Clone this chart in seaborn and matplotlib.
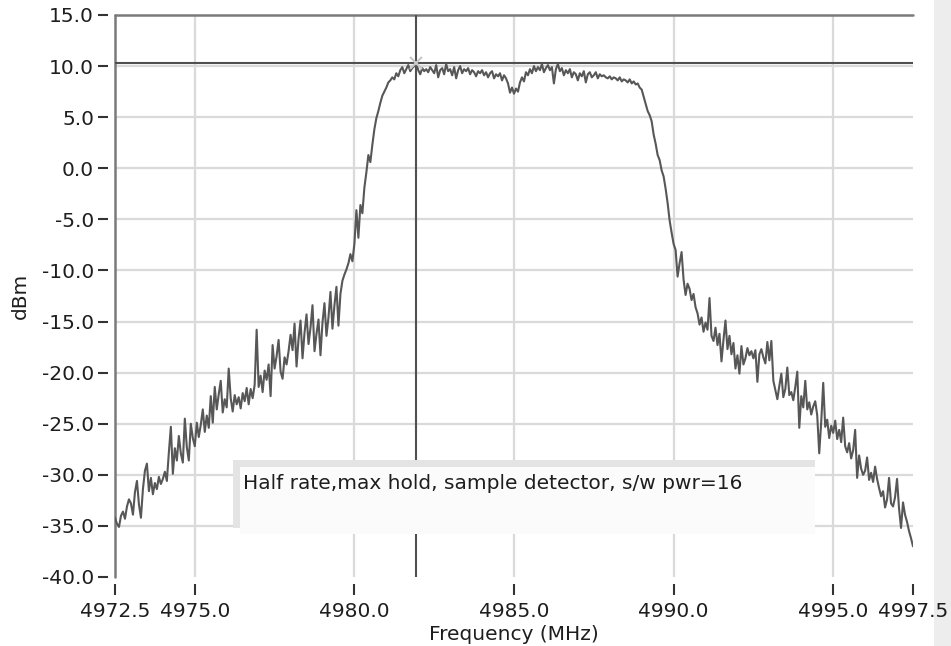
import numpy as np
import pandas as pd
import matplotlib.pyplot as plt
import seaborn as sns
from matplotlib.patches import Rectangle

# ── Data ──────────────────────────────────────────────────────
freq_start, freq_stop = 4972.5, 4997.5   # MHz, 1/16 MHz steps

# 4972.5 .. 4979.9375
skirt_left = [
    -34.2, -34.8, -35.1, -34.0, -33.6, -34.3, -33.1, -32.4,
    -32.8, -33.9, -31.7, -30.6, -32.9, -34.2, -31.4, -29.6,
    -28.9, -31.6, -30.3, -31.9, -30.8, -31.4, -30.2, -30.9,
    -30.4, -29.7, -30.6, -27.8, -25.3, -29.9, -27.4, -28.6,
    -26.2, -27.9, -28.8, -24.5, -27.3, -28.6, -25.0, -26.4,
    -27.2, -24.9, -26.3, -25.1, -23.6, -25.8, -24.2, -25.4,
    -22.3, -24.9, -21.4, -23.6, -22.1, -20.8, -23.9, -22.6,
    -23.4, -19.6, -22.5, -23.8, -22.2, -23.1, -22.4, -23.5,
    -22.0, -22.8, -21.5, -23.1, -21.6, -22.5, -21.2, -15.8,
    -21.4, -20.3, -21.9, -19.8, -20.7, -19.2, -22.3, -17.3,
    -19.6, -18.4, -16.8, -19.9, -20.6, -18.5, -19.2, -17.9,
    -16.3, -17.8, -15.2, -19.4, -16.7, -14.9, -18.6, -16.1,
    -14.3, -17.2, -15.6, -13.4, -17.9, -16.2, -14.8, -18.3,
    -15.1, -13.2, -16.4, -14.6, -12.1, -15.7, -13.4, -11.6,
    -15.4, -12.3, -11.0, -10.4, -9.9, -9.3, -8.4, -9.1,
]
# 4980.0 .. 4981.4375
rise_left = [
    -7.4, -4.1, -6.8, -3.6, -4.4, -1.9, -0.4, 1.3,
    0.6, 2.3, 3.8, 4.9, 5.6, 6.4, 7.1, 7.5,
    7.9, 8.4, 8.6, 8.9, 8.7, 9.3, 9.0, 9.6,
]
# 4981.5 .. 4988.9375
passband = [
    9.9, 9.3, 9.7, 10.1, 9.5, 9.8, 10.0, 10.3,
    9.6, 9.2, 9.8, 9.5, 9.7, 9.4, 9.9, 9.6,
    9.3, 10.1, 8.9, 9.6, 9.8, 9.2, 10.2, 9.5,
    9.7, 9.1, 9.9, 8.8, 9.6, 10.0, 9.3, 9.7,
    9.5, 9.8, 9.2, 9.6, 9.4, 9.0, 9.5, 9.3,
    9.6, 9.1, 9.4, 8.9, 9.3, 9.5, 8.8, 9.2,
    9.0, 9.3, 8.6, 9.1, 8.8, 8.3, 7.4, 7.9,
    7.3, 7.8, 7.5, 8.4, 8.9, 8.5, 9.4, 9.1,
    9.7, 9.3, 10.0, 9.5, 9.9, 9.6, 10.2, 9.4,
    9.8, 10.1, 9.6, 9.9, 8.3, 9.7, 10.2, 9.5,
    9.8, 9.1, 9.6, 9.3, 9.7, 8.9, 9.4, 9.2,
    8.6, 9.3, 9.0, 9.5, 8.4, 9.2, 9.4, 8.9,
    9.1, 9.4, 8.8, 9.2, 9.0, 9.1, 8.9, 8.8,
    9.0, 8.7, 8.9, 8.8, 8.6, 8.9, 8.5, 8.7,
    8.6, 8.4, 8.7, 8.3, 8.5, 8.2, 8.3, 7.9,
]
# 4989.0 .. 4990.4375
fall_right = [
    7.7, 7.0, 6.3, 5.6, 5.2, 4.6, 3.3, 2.4,
    1.3, 0.8, -0.2, -0.8, -2.0, -3.4, -5.1, -6.3,
    -7.4, -8.0, -10.6, -9.3, -8.2, -10.9, -12.4, -11.3,
]
# 4990.5 .. 4997.5
skirt_right = [
    -11.8, -12.9, -12.3, -13.6, -14.2, -15.3, -14.6, -16.0,
    -15.1, -15.8, -12.7, -16.4, -16.9, -15.6, -17.3, -16.2,
    -18.9, -16.8, -14.9, -17.7, -16.4, -18.2, -17.1, -19.6,
    -18.3, -20.1, -17.4, -19.2, -18.6, -17.6, -18.3, -17.9,
    -18.6, -17.8, -20.9, -18.2, -17.7, -18.5, -19.1, -17.0,
    -18.8, -16.9, -20.8, -21.7, -22.6, -21.3, -20.1, -22.4,
    -21.6, -19.5, -22.2, -21.9, -22.7, -21.4, -19.9, -25.4,
    -22.3, -23.4, -20.8, -23.6, -22.9, -24.1, -23.3, -22.8,
    -24.2, -27.9, -24.8, -21.0, -25.3, -24.6, -26.4, -25.2,
    -25.9, -24.7, -26.5, -25.6, -26.8, -24.4, -27.2, -27.8,
    -26.9, -28.4, -27.6, -25.6, -30.3, -28.1, -29.4, -30.0,
    -29.6, -28.3, -30.5, -29.8, -30.7, -29.2, -30.4, -31.3,
    -32.1, -31.6, -33.2, -32.4, -30.3, -32.8, -33.1, -32.2,
    -30.4, -33.3, -35.2, -32.7, -33.9, -34.6, -35.5, -36.2, -37.0,
]

marker_freq, marker_level = 4981.94, 10.3
x_ticks = [4972.5, 4975.0, 4980.0, 4985.0, 4990.0, 4995.0, 4997.5]
y_ticks = list(range(-40, 20, 5))
note = "Half rate,max hold, sample detector, s/w pwr=16"

level = skirt_left + rise_left + passband + fall_right + skirt_right
df = pd.DataFrame({'freq': np.linspace(freq_start, freq_stop, len(level)),
                   'dBm': level})

# ── Figure ────────────────────────────────────────────────────
sns.set_theme(style='white')
plt.rcParams['font.family'] = ['DejaVu Sans']
plt.rcParams['axes.unicode_minus'] = False

W, H = 951, 646
fs = 14.5
txt = '#1e1e1e'
fig = plt.figure(figsize=(W / 100, H / 100), dpi=100)
ax = fig.add_axes([115 / W, 1 - 577 / H, (913 - 115) / W, (577 - 15) / H])


def px(x, y):
    return x / W, 1 - y / H


# panel edge on the right (behind the tick labels)
fig.add_artist(Rectangle(px(934, 646), 17 / W, 1, transform=fig.transFigure,
                         facecolor='#ededed', edgecolor='none', zorder=-1))

# grid (drawn by hand: no lines on the outer ticks)
for f in x_ticks[1:-1]:
    ax.axvline(f, color='#dadada', lw=1.6, zorder=0)
for y in y_ticks[1:-1]:
    ax.axhline(y, color='#dadada', lw=1.6, zorder=0)

# visible frame: left and top only
ax.axvline(freq_start, color='#7a7a7a', lw=1.8, zorder=1, clip_on=False)
ax.axhline(15, color='#7a7a7a', lw=1.8, zorder=1, clip_on=False)

# cursor
ax.axhline(marker_level, color='#505050', lw=1.5, zorder=2)
ax.axvline(marker_freq, color='#505050', lw=1.5, zorder=2)

sns.lineplot(data=df, x='freq', y='dBm', ax=ax, color='#575757',
             linewidth=1.5, estimator=None, zorder=4)
ax.plot(marker_freq, marker_level, marker='x', color='#c8c8c8',
        ms=8, mew=1.5, zorder=5)

ax.set_xlim(freq_start, freq_stop)
ax.set_ylim(-40, 15)
ax.set_xticks(x_ticks)
ax.set_xticklabels([f'{v:.1f}' for v in x_ticks])
ax.set_yticks(y_ticks)
ax.set_yticklabels([f'{v:.1f}' for v in y_ticks])

for side in ['top', 'right', 'left', 'bottom']:
    ax.spines[side].set_visible(False)
ax.spines['left'].set_position(('outward', 5))
ax.spines['bottom'].set_position(('outward', 5))
ax.tick_params(axis='y', left=True, direction='out', length=7, width=1.5,
               color='#333333', pad=3, labelsize=fs, labelcolor=txt)
ax.tick_params(axis='x', bottom=True, direction='out', length=8, width=1.5,
               color='#333333', pad=5, labelsize=fs, labelcolor=txt)
ax.set_xlabel('Frequency (MHz)', fontsize=fs, color=txt, labelpad=3)
ax.set_ylabel('dBm', fontsize=fs, color=txt, labelpad=9)
ax.set_facecolor('white')

# note box with its grey shadow, on top of grid and cursor
fig.add_artist(Rectangle(px(233, 528), 582 / W, 68 / H,
                         transform=fig.transFigure, facecolor='#e4e4e4',
                         edgecolor='none', zorder=3))
fig.add_artist(Rectangle(px(240, 534), 575 / W, 67 / H,
                         transform=fig.transFigure, facecolor='#fbfbfb',
                         edgecolor='none', zorder=3))
fig.text(*px(243, 489), note, fontsize=fs, color=txt, va='baseline',
         ha='left', zorder=6)

fig.savefig('out.png', dpi=100)
